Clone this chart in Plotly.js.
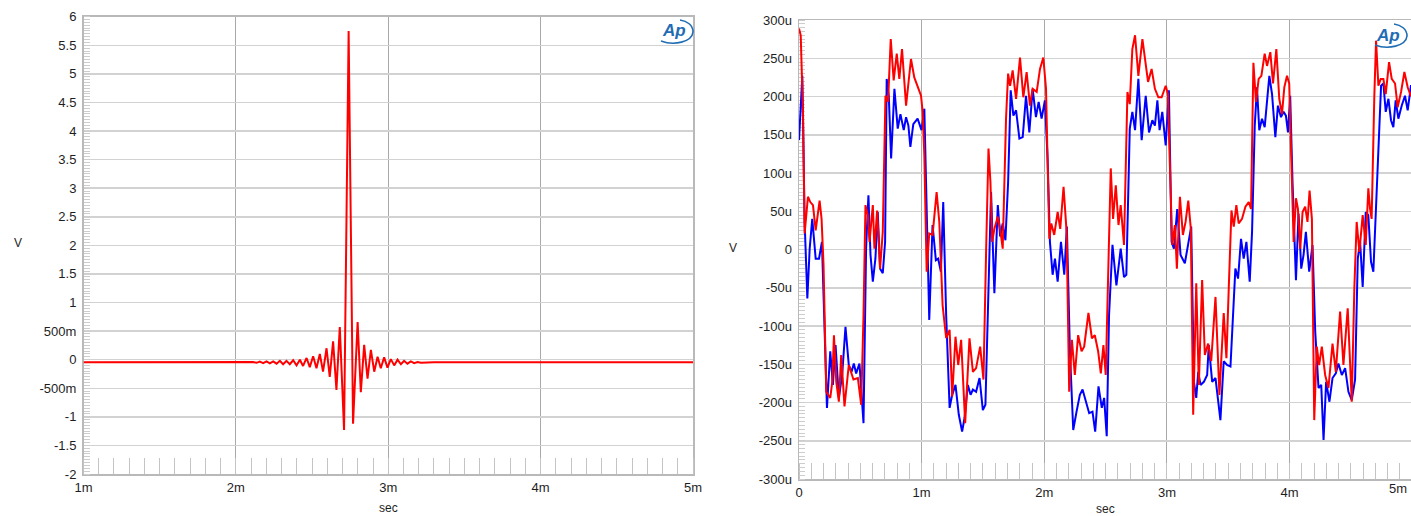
<!DOCTYPE html>
<html>
<head>
<meta charset="utf-8">
<script src="https://cdn.plot.ly/plotly-3.0.1.min.js"></script>
<style>
  html, body { margin: 0; padding: 0; background: #ffffff; }
  #chart { width: 1411px; height: 516px; }
</style>
</head>
<body>
<div id="chart"></div>
<script>
// ---- Impulse response (left panel): time in ms, level in V ----
const impulseTime = [
  1.000, 1.500, 2.000, 2.092, 2.113, 2.136, 2.157, 2.179, 2.201, 2.223, 2.245, 2.267,
  2.289, 2.310, 2.332, 2.354, 2.376, 2.398, 2.420, 2.441, 2.464, 2.485, 2.507,
  2.529, 2.551, 2.572, 2.595, 2.616, 2.638, 2.660, 2.682, 2.710, 2.740, 2.769,
  2.799, 2.820, 2.842, 2.864, 2.886, 2.908, 2.930, 2.951, 2.973, 2.995, 3.017,
  3.039, 3.061, 3.083, 3.104, 3.126, 3.148, 3.170, 3.192, 3.214, 3.300, 4.000, 5.000
];
const impulseVolts = [
  -0.045, -0.045, -0.045, -0.05, -0.04, -0.055, -0.035, -0.06, -0.03, -0.065, -0.03, -0.07,
  -0.02, -0.08, -0.02, -0.08, -0.01, -0.10, 0.00, -0.11, 0.03, -0.13, 0.06,
  -0.15, 0.10, -0.21, 0.20, -0.30, 0.32, -0.53, 0.57, -1.23, 5.75, -1.12,
  0.66, -0.57, 0.26, -0.33, 0.17, -0.21, 0.05, -0.15, 0.04, -0.14, 0.01,
  -0.10, 0.00, -0.08, -0.02, -0.07, -0.03, -0.06, -0.04, -0.055, -0.045, -0.045, -0.045
];

// ---- Undithered low-level tone (right panel): time in ms, level in µV ----
const toneTimeRed = [
  0.000, 0.014, 0.033, 0.046, 0.073, 0.092, 0.114, 0.136, 0.168, 0.184, 0.200, 0.222,
  0.238, 0.255, 0.271, 0.285, 0.304, 0.325, 0.344, 0.371, 0.406, 0.444, 0.480, 0.507,
  0.526, 0.542, 0.561, 0.575, 0.602, 0.615, 0.637, 0.661, 0.683, 0.705, 0.726, 0.748,
  0.772, 0.797, 0.818, 0.840, 0.873, 0.913, 0.940, 0.967, 0.995, 1.008, 1.022, 1.041,
  1.062, 1.089, 1.122, 1.144, 1.171, 1.200, 1.228, 1.249, 1.276, 1.298, 1.322, 1.355,
  1.390, 1.418, 1.444, 1.477, 1.504, 1.526, 1.545, 1.561, 1.575, 1.593, 1.621, 1.640,
  1.661, 1.688, 1.705, 1.721, 1.742, 1.770, 1.802, 1.829, 1.856, 1.883, 1.905, 1.938,
  1.965, 1.992, 2.014, 2.027, 2.041, 2.057, 2.081, 2.109, 2.130, 2.157, 2.182, 2.203,
  2.225, 2.249, 2.276, 2.304, 2.325, 2.360, 2.388, 2.412, 2.439, 2.461, 2.482, 2.501,
  2.523, 2.542, 2.561, 2.583, 2.605, 2.623, 2.650, 2.678, 2.697, 2.718, 2.740, 2.767,
  2.800, 2.827, 2.846, 2.875, 2.902, 2.930, 2.957, 2.990, 3.008, 3.024, 3.043, 3.065,
  3.081, 3.106, 3.130, 3.152, 3.174, 3.195, 3.214, 3.239, 3.260, 3.287, 3.309, 3.336,
  3.361, 3.396, 3.428, 3.463, 3.485, 3.504, 3.526, 3.545, 3.566, 3.585, 3.612, 3.640,
  3.667, 3.686, 3.705, 3.726, 3.748, 3.770, 3.797, 3.816, 3.843, 3.865, 3.892, 3.916,
  3.938, 3.957, 3.979, 3.997, 4.014, 4.033, 4.052, 4.068, 4.087, 4.106, 4.127, 4.146,
  4.163, 4.182, 4.201, 4.222, 4.241, 4.263, 4.290, 4.317, 4.350, 4.377, 4.412, 4.439,
  4.474, 4.507, 4.528, 4.547, 4.569, 4.596, 4.621, 4.642, 4.656, 4.669, 4.691, 4.705,
  4.724, 4.743, 4.765, 4.784, 4.811, 4.833, 4.860, 4.881, 4.909, 4.936, 4.963, 4.990
];
const toneRed = [
  289, 280, 175, 21, 69, 62, 58, 25, 64, 40, -20, -186,
  -190, -194, -173, -112, -173, -199, -138, -205, -151, -170, -168, -203,
  -86, 58, 45, 10, 58, 1, 51, -25, 23, 201, 193, 275,
  221, 256, 223, 262, 188, 249, 225, 214, 201, 180, 123, -29,
  21, 19, 75, 36, -73, -116, -105, -192, -114, -151, -118, -227,
  -116, -160, -155, -127, -170, 1, 132, 88, 10, 27, 43, 27,
  1, 171, 230, 214, 234, 197, 251, 199, 232, 188, 210, 206,
  236, 251, 210, 114, 14, 34, 19, 49, 27, 82, 23, -186,
  -118, -164, -112, -133, -127, -83, -116, -112, -133, -162, -125, -164,
  1, 106, 40, 84, 32, 58, 6, 206, 190, 262, 280, 227,
  275, 238, 219, 236, 210, 199, 199, 214, 203, 110, 6, 32,
  -25, 69, 19, 36, 64, 27, -216, -44, -177, -40, -138, -123,
  -146, -62, -190, -83, -142, -51, 51, 30, 58, 34, 40, 56,
  62, 53, 244, 193, 223, 227, 256, 240, 258, 217, 262, 197,
  177, 212, 227, 217, 119, 10, 67, 53, 1, 49, 56, 36,
  77, 40, -223, -127, -151, -127, -164, -181, -123, -160, -81, -151,
  -77, -199, -51, 36, -3, 45, 6, 80, 53, 40, 201, 273,
  214, 223, 223, 203, 245, 223, 217, 186, 206, 232, 212, 200
];

const toneTimeBlue = [
  0.000, 0.027, 0.046, 0.068, 0.087, 0.108, 0.136, 0.163, 0.187, 0.203, 0.228, 0.255,
  0.276, 0.298, 0.325, 0.352, 0.379, 0.406, 0.428, 0.447, 0.466, 0.493, 0.526, 0.547,
  0.566, 0.583, 0.602, 0.623, 0.642, 0.661, 0.683, 0.702, 0.715, 0.732, 0.751, 0.778,
  0.805, 0.827, 0.854, 0.873, 0.892, 0.908, 0.932, 0.967, 0.999, 1.022, 1.035, 1.049,
  1.062, 1.089, 1.116, 1.135, 1.157, 1.176, 1.200, 1.228, 1.249, 1.276, 1.303, 1.330,
  1.350, 1.377, 1.399, 1.418, 1.444, 1.472, 1.499, 1.520, 1.548, 1.566, 1.593, 1.621,
  1.640, 1.661, 1.683, 1.705, 1.726, 1.748, 1.770, 1.797, 1.824, 1.851, 1.878, 1.905,
  1.932, 1.954, 1.978, 2.005, 2.027, 2.046, 2.068, 2.087, 2.109, 2.136, 2.163, 2.184,
  2.209, 2.236, 2.263, 2.290, 2.312, 2.339, 2.366, 2.393, 2.415, 2.442, 2.469, 2.488,
  2.509, 2.528, 2.556, 2.588, 2.623, 2.650, 2.669, 2.697, 2.718, 2.740, 2.767, 2.794,
  2.827, 2.854, 2.881, 2.902, 2.922, 2.940, 2.962, 2.990, 3.016, 3.038, 3.057, 3.084,
  3.111, 3.146, 3.174, 3.198, 3.220, 3.239, 3.255, 3.274, 3.301, 3.328, 3.341, 3.369,
  3.396, 3.417, 3.436, 3.463, 3.490, 3.518, 3.539, 3.558, 3.580, 3.604, 3.626, 3.648,
  3.675, 3.694, 3.716, 3.734, 3.753, 3.775, 3.797, 3.816, 3.835, 3.857, 3.884, 3.905,
  3.930, 3.951, 3.970, 3.987, 4.005, 4.024, 4.052, 4.073, 4.095, 4.114, 4.133, 4.160,
  4.187, 4.209, 4.236, 4.258, 4.277, 4.298, 4.325, 4.350, 4.377, 4.398, 4.426, 4.453,
  4.480, 4.507, 4.534, 4.556, 4.575, 4.596, 4.621, 4.642, 4.664, 4.683, 4.705, 4.729,
  4.746, 4.765, 4.784, 4.806, 4.827, 4.846, 4.865, 4.887, 4.914, 4.941, 4.963, 4.990
];
const toneBlue = [
  143, 227, 36, -64, 1, 40, -12, -12, 10, -86, -207, -133,
  -177, -125, -194, -164, -101, -151, -160, -149, -162, -149, -227, 1,
  71, -7, -42, -12, 49, -25, -31, 10, 223, 201, 119, 210,
  158, 177, 156, 173, 162, 134, 164, 171, 156, 184, 88, -29,
  -92, 32, -14, -12, -29, 62, -86, -207, -190, -177, -216, -238,
  -220, -177, -190, -183, -186, -168, -210, -203, -42, 75, -57, 58,
  17, 34, 12, 88, 208, 175, 182, 145, 147, 201, 153, 210,
  173, 193, 171, 195, 119, 10, -33, -12, -42, 10, -33, 30,
  -133, -236, -212, -190, -183, -199, -214, -212, -238, -179, -207, -194,
  -244, -86, 6, -47, 1, -36, -33, 158, 180, 156, 223, 143,
  201, 153, 169, 162, 195, 156, 180, 136, 208, 10, 1, 53,
  -7, -18, 6, 30, -173, -194, -160, -177, -173, -164, -125, -173,
  -168, -199, -223, -146, -151, -153, -86, -25, -38, 14, -12, 10,
  -42, 23, 162, 212, 156, 171, 160, 190, 227, 203, 147, 188,
  173, 180, 175, 153, 201, 88, -40, 47, -25, -7, 23, -29,
  6, -107, -181, -177, -249, -173, -199, -168, -162, -149, -164, -155,
  -186, -197, -170, -12, 10, -49, 49, 45, -16, -29, 58, 162,
  214, 217, 180, 197, 169, 160, 195, 171, 188, 201, 182, 215
];

// ---- Axis ticks and labels ----
const impulseXTicks = [1, 2, 3, 4, 5];
const impulseXLabels = ["1m", "2m", "3m", "4m", "5m"];
const impulseYTicks = [-2, -1.5, -1, -0.5, 0, 0.5, 1, 1.5, 2, 2.5, 3, 3.5, 4, 4.5, 5, 5.5, 6];
const impulseYLabels = ["-2", "-1.5", "-1", "-500m", "0", "500m", "1", "1.5", "2", "2.5", "3", "3.5", "4", "4.5", "5", "5.5", "6"];
const toneXTicks = [0, 1, 2, 3, 4];
const toneXLabels = ["0", "1m", "2m", "3m", "4m"];
const toneXEndLabel = "5m";   // last label sits at the page edge, set inward by hand
const toneYTicks = [-300, -250, -200, -150, -100, -50, 0, 50, 100, 150, 200, 250, 300];
const toneYLabels = ["-300u", "-250u", "-200u", "-150u", "-100u", "-50u", "0", "50u", "100u", "150u", "200u", "250u", "300u"];

// ---- Page geometry helpers (pixel -> paper) ----
const W = 1411, H = 516;
const px = v => v / W;
const py = v => 1 - v / H;

const FONT = "Arial, 'Liberation Sans', Helvetica, sans-serif";
const tickFont = { family: FONT, size: 13, color: "#1e1e1e" };

function xAxis(anchor, domain, range, vals, labels) {
  return {
    anchor: anchor, domain: domain, range: range, fixedrange: true,
    tickmode: "array", tickvals: vals, ticktext: labels,
    tickfont: tickFont, ticks: "", ticklabelstandoff: 1,
    showgrid: true, gridcolor: "#a9a9a9", gridwidth: 1,
    zeroline: false, showline: true, mirror: true,
    linecolor: "#b9b9b9", linewidth: 1.5, layer: "below traces",
    minor: { tickmode: "linear", tick0: 0, dtick: 0.1, ticks: "inside", ticklen: 16,
             tickcolor: "#c4c4c4", tickwidth: 1, showgrid: false }
  };
}
function yAxis(anchor, domain, range, vals, labels, minorStep) {
  return {
    anchor: anchor, domain: domain, range: range, fixedrange: true,
    tickmode: "array", tickvals: vals, ticktext: labels,
    tickfont: tickFont, ticks: "", ticklabelstandoff: 3,
    showgrid: true, gridcolor: "#d2d2d2", gridwidth: 1.5,
    zeroline: false, showline: true, mirror: true,
    linecolor: "#b9b9b9", linewidth: 1.5, layer: "below traces",
    minor: { tickmode: "linear", tick0: 0, dtick: minorStep, ticks: "inside", ticklen: 6,
             tickcolor: "#cdcdcd", tickwidth: 1, showgrid: false }
  };
}

const traces = [
  { x: impulseTime, y: impulseVolts, xaxis: "x", yaxis: "y", type: "scatter", mode: "lines",
    line: { color: "#ff0000", width: 2 }, hoverinfo: "skip" },
  { x: toneTimeBlue, y: toneBlue, xaxis: "x2", yaxis: "y2", type: "scatter", mode: "lines",
    line: { color: "#0000ff", width: 2 }, hoverinfo: "skip" },
  { x: toneTimeRed, y: toneRed, xaxis: "x2", yaxis: "y2", type: "scatter", mode: "lines",
    line: { color: "#ff0000", width: 2 }, hoverinfo: "skip" }
];

// "Ap" badge: italic lettering plus a swoosh drawn with cubic curves
const BADGE = "#1f6db4";
function badgeSwoosh(cx, cy) {
  const p = (x, y) => px(cx + x).toFixed(5) + "," + py(cy + y).toFixed(5);
  return "M" + p(-15, 9) + " C" + p(-2, 14) + " " + p(16, 10) + " " + p(17, 0) +
         " C" + p(17, -7) + " " + p(11, -11) + " " + p(4, -12);
}
function badgeShape(cx, cy) {
  return { type: "path", xref: "paper", yref: "paper", path: badgeSwoosh(cx, cy),
           line: { color: BADGE, width: 1.6 }, layer: "above" };
}
function badgeText(cx, cy) {
  return { xref: "paper", yref: "paper", x: px(cx - 2), y: py(cy - 1), xanchor: "center", yanchor: "middle",
           text: "<b><i>Ap</i></b>", showarrow: false,
           font: { family: FONT, size: 17, color: BADGE } };
}

const axisTitleFont = { family: FONT, size: 12, color: "#1e1e1e" };
function note(x, y, text, font) {
  return { xref: "paper", yref: "paper", x: px(x), y: py(y), text: text, showarrow: false,
           xanchor: "center", yanchor: "middle", font: font };
}

const layout = {
  width: W, height: H,
  margin: { l: 0, r: 0, t: 0, b: 0 },
  paper_bgcolor: "#ffffff", plot_bgcolor: "#ffffff",
  showlegend: false,
  xaxis: xAxis("y", [px(83.5), px(693)], [1, 5], impulseXTicks, impulseXLabels),
  yaxis: yAxis("x", [py(474), py(16.7)], [-2, 6], impulseYTicks, impulseYLabels, 0.05),
  xaxis2: xAxis("y2", [px(799), 1], [0, 4.99], toneXTicks, toneXLabels),
  yaxis2: yAxis("x2", [py(479), py(20)], [-300, 300], toneYTicks, toneYLabels, 5),
  shapes: [badgeShape(676, 32), badgeShape(1390, 36)],
  annotations: [
    note(18, 243, "V", axisTitleFont),
    note(388, 508, "sec", axisTitleFont),
    note(733, 248, "V", axisTitleFont),
    note(1105, 509, "sec", axisTitleFont),
    note(1398, 488, toneXEndLabel, tickFont),
    badgeText(676, 32), badgeText(1390, 36)
  ]
};

Plotly.newPlot("chart", traces, layout, { staticPlot: true, displayModeBar: false });
</script>
</body>
</html>
